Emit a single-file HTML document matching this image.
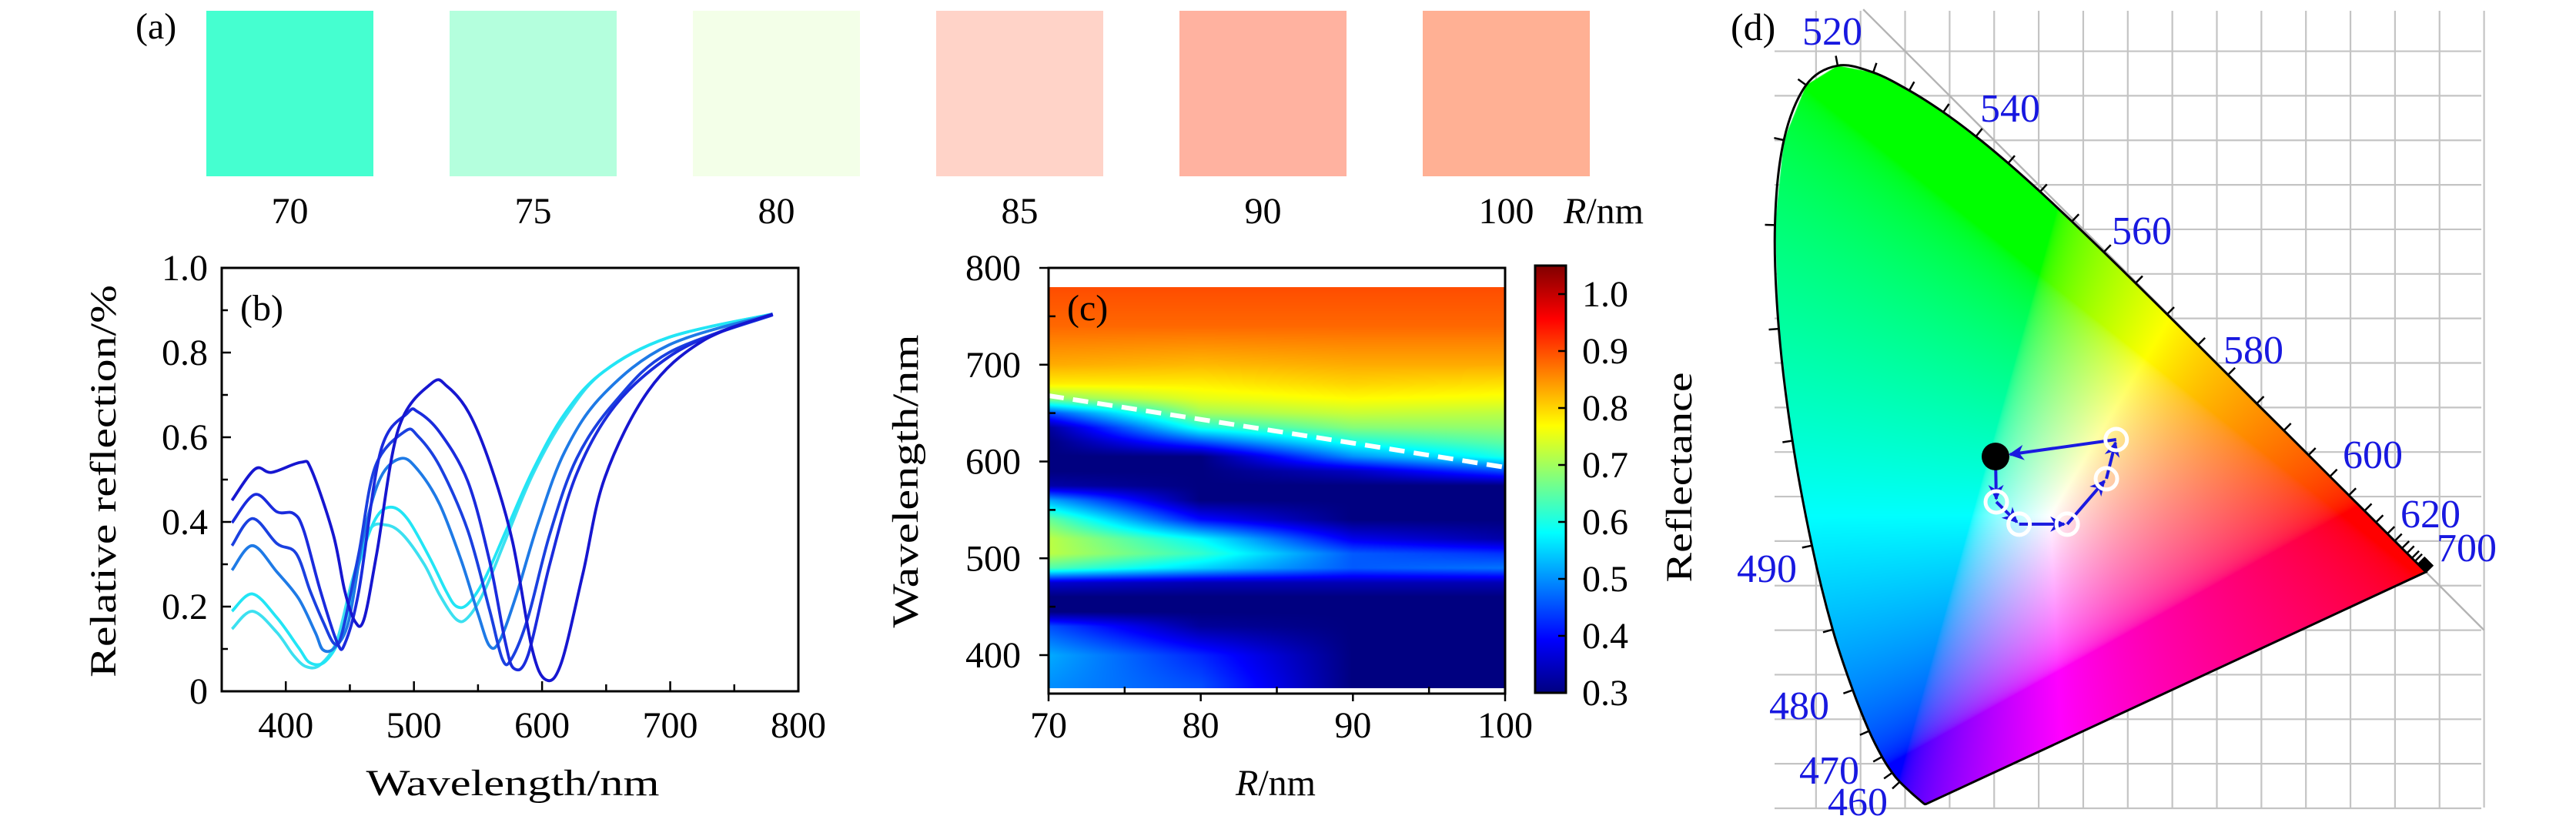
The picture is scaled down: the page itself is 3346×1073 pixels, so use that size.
<!DOCTYPE html>
<html><head><meta charset="utf-8">
<style>
html,body{margin:0;padding:0;background:#fff;}
#root{position:relative;width:3346px;height:1073px;overflow:hidden;background:#fff;}
svg,canvas{position:absolute;left:0;top:0;}
text{font-family:"Liberation Serif",serif;}
</style></head>
<body>
<div id="root">
<svg id="under" width="3346" height="1073"></svg>
<canvas id="heat"></canvas>
<canvas id="gamut"></canvas>
<svg id="over" width="3346" height="1073">
<defs>
<linearGradient id="jetg" x1="0" y1="1" x2="0" y2="0">
<stop offset="0" stop-color="#000080"/><stop offset="0.125" stop-color="#0000ff"/>
<stop offset="0.375" stop-color="#00ffff"/><stop offset="0.625" stop-color="#ffff00"/>
<stop offset="0.875" stop-color="#ff0000"/><stop offset="1" stop-color="#800000"/>
</linearGradient>
<marker id="arr" viewBox="0 0 10 10" refX="9" refY="5" markerWidth="5" markerHeight="5" orient="auto" markerUnits="strokeWidth">
<path d="M0,0 L10,5 L0,10 L3,5 z" fill="#1a1ae0"/></marker>
</defs>
</svg>
</div>
<script>
// ---------- panel (a) data ----------
const swatchR = ["70","75","80","85","90","100"];
const swatchColors = ["#45ffd0","#b4ffdd","#f3ffe8","#ffd3c8","#ffb2a0","#ffb094"];

// ---------- panel (b) data ----------
const bWl100=[358,376,389,412,420,437,446,454,461,471,488,514,526,543,560,577,592,603,615,632,649,683,725,780];
const bV100=[.451,.525,.517,.541,.523,.371,.237,.165,.17,.326,.621,.728,.72,.657,.532,.353,.103,.027,.067,.28,.505,.71,.827,.891];
const bWl90=[358,376,393,406,414,427,440,446,457,474,495,503,520,542,559,571,578,589,606,627,657,699,742,780];
const bV90=[.398,.465,.424,.42,.38,.237,.116,.112,.237,.567,.657,.66,.612,.496,.308,.121,.054,.085,.30,.514,.675,.79,.853,.889];
const bWl85=[358,374,393,408,419,429,438,444,457,470,493,503,520,542,559,569,576,589,606,627,657,699,780];
const bV85=[.344,.408,.349,.326,.237,.165,.112,.139,.326,.532,.614,.603,.532,.38,.192,.076,.076,.174,.371,.55,.684,.80,.889];
const bWl80=[358,374,393,410,423,429,438,449,461,474,490,503,520,537,550,559,567,580,597,618,648,699,780];
const bV80=[.286,.344,.282,.219,.139,.098,.103,.165,.371,.505,.55,.523,.442,.308,.183,.107,.12,.228,.398,.568,.702,.818,.891];
const bWl75=[358,374,393,410,419,431,444,457,470,482,495,512,525,533,542,555,572,593,618,648,699,780];
const bV75=[.189,.23,.174,.103,.067,.071,.139,.30,.407,.435,.407,.317,.237,.201,.206,.264,.38,.523,.657,.755,.836,.891];
const bWl70=[358,374,393,406,416,427,440,452,465,478,491,508,520,533,542,555,572,593,618,648,699,780];
const bV70=[.147,.189,.139,.085,.058,.063,.121,.264,.38,.393,.371,.30,.228,.17,.174,.237,.362,.514,.648,.755,.836,.891];
const bXTicks=[400,500,600,700,800];
const bYTicks=[0,0.2,0.4,0.6,0.8,1.0];
const bYTickLabels=["0","0.2","0.4","0.6","0.8","1.0"];

// ---------- panel (c) data ----------
const cR=[70,80,90,100];
const cWl=[370,400,430,445,460,475,490,505,520,540,560,575,590,605,620,635,650,665,680,700,740,780];
const cRefl70=[.50,.52,.45,.30,.30,.36,.64,.72,.72,.66,.52,.33,.30,.30,.30,.32,.45,.68,.78,.83,.88,.90];
const cRefl80=[.45,.42,.32,.30,.30,.34,.55,.62,.58,.40,.30,.30,.30,.30,.45,.60,.70,.75,.78,.82,.88,.90];
const cRefl90=[.30,.30,.30,.30,.30,.34,.46,.46,.38,.30,.30,.30,.35,.50,.60,.68,.73,.77,.80,.83,.88,.90];
const cRefl100=[.30,.30,.30,.30,.30,.34,.48,.43,.33,.30,.30,.30,.45,.60,.65,.69,.72,.76,.79,.83,.88,.90];
const cDashR=[70,90,100];
const cDashWl=[668,619,594];
const cXTicks=[70,80,90,100];
const cYTicks=[400,500,600,700,800];
const cbTicks=[0.3,0.4,0.5,0.6,0.7,0.8,0.9,1.0];

// ---------- panel (d) data ----------
const locWl=[380,400,420,440,450,460,465,470,475,480,485,490,495,500,505,510,515,520,525,530,535,540,545,550,555,560,565,570,575,580,585,590,595,600,605,610,620,630,640,650,700];
const locX=[.1741,.1733,.1714,.1644,.1566,.1440,.1355,.1241,.1096,.0913,.0687,.0454,.0235,.0082,.0039,.0139,.0389,.0743,.1142,.1547,.1929,.2296,.2658,.3016,.3373,.3731,.4087,.4441,.4788,.5125,.5448,.5752,.6029,.6270,.6482,.6658,.6915,.7079,.7190,.7260,.7347];
const locY=[.0050,.0048,.0051,.0109,.0177,.0297,.0399,.0578,.0868,.1327,.2007,.2950,.4127,.5384,.6548,.7502,.8120,.8338,.8262,.8059,.7816,.7543,.7243,.6923,.6589,.6245,.5896,.5547,.5202,.4866,.4544,.4242,.3965,.3725,.3514,.3340,.3083,.2920,.2809,.2740,.2653];
const ptX=[0.2515,0.2524,0.278,0.332,0.376,0.387];
const ptY=[0.395,0.344,0.319,0.319,0.370,0.414];
const wlLabels=["520","540","560","580","600","620","700","490","480","470","460"];
const wlLabelPos=[[2380,58],[2611,158],[2782,317],[2927,472],[3082,608],[3157,685],[3204,729],[2295,756],[2337,934],[2376,1018],[2413,1059]];

const NS="http://www.w3.org/2000/svg";
const over=document.getElementById('over');
const under=document.getElementById('under');
function el(parent,tag,attrs,txt){const e=document.createElementNS(NS,tag);for(const k in attrs)e.setAttribute(k,attrs[k]);if(txt!==undefined)e.textContent=txt;parent.appendChild(e);return e;}
function grp(parent,name){const g=document.createElementNS(NS,'g');


parent.appendChild(g);return g;}
function smooth(pts){let d='M'+pts[0][0].toFixed(1)+','+pts[0][1].toFixed(1);
for(let i=0;i<pts.length-1;i++){const p0=pts[Math.max(0,i-1)],p1=pts[i],p2=pts[i+1],p3=pts[Math.min(pts.length-1,i+2)];
const c1=[p1[0]+(p2[0]-p0[0])/6,p1[1]+(p2[1]-p0[1])/6],c2=[p2[0]-(p3[0]-p1[0])/6,p2[1]-(p3[1]-p1[1])/6];
d+=' C'+c1[0].toFixed(1)+','+c1[1].toFixed(1)+' '+c2[0].toFixed(1)+','+c2[1].toFixed(1)+' '+p2[0].toFixed(1)+','+p2[1].toFixed(1);}
return d;}

// ===== panel a =====
const ga=grp(over,'panel-a-swatches');
let t=el(ga,'text',{x:176,y:50,'font-size':48},'(a)');

const swX0=268, swStep=316, swW=217;
swatchR.forEach((r,i)=>{
 const x=swX0+i*swStep;
 const rc=el(ga,'rect',{x:x,y:14,width:swW,height:215,fill:swatchColors[i]});
 
 
 const tx=el(ga,'text',{x:x+swW/2,y:290,'font-size':48,'text-anchor':'middle'},r);
 
 
});
t=el(ga,'text',{x:2031,y:290,'font-size':48});

el(t,'tspan',{'font-style':'italic'},'R');el(t,'tspan',{},'/nm');

// ===== panel b =====
const gb=grp(over,'panel-b-spectra');
const bL=288,bR=1037,bT=348,bB=898;
const xb=nm=>bL+(nm-350)*(bR-bL)/450;
const yb=v=>bB-v*(bB-bT);
const bSeries=[[bWl70,bV70,'#3ce0f0','70'],[bWl75,bV75,'#22e5f5','75'],[bWl80,bV80,'#1e7ae6','80'],[bWl85,bV85,'#1a40e0','85'],[bWl90,bV90,'#1a2bdd','90'],[bWl100,bV100,'#1616d0','100']];
bSeries.forEach(s=>{
 const p=el(gb,'path',{d:smooth(s[0].map((w,i)=>[xb(w),yb(s[1][i])])),fill:'none',stroke:s[2],'stroke-width':3.8,'stroke-linejoin':'round'});
 
 
});
let ax=el(gb,'rect',{x:bL,y:bT,width:bR-bL,height:bB-bT,fill:'none',stroke:'#000','stroke-width':3});

for(let v=0;v<=1.0001;v+=0.1){const major=Math.round(v*10)%2===0;el(gb,'line',{x1:bL,x2:bL+(major?12:8),y1:yb(v),y2:yb(v),stroke:'#000','stroke-width':2.5});}
for(let w=400;w<=800;w+=50){const major=w%100===0;el(gb,'line',{x1:xb(w),x2:xb(w),y1:bB,y2:bB-(major?13:9),stroke:'#000','stroke-width':2.5});}
bYTicks.forEach((v,i)=>{const e=el(gb,'text',{x:270,y:yb(v)+16,'font-size':48,'text-anchor':'end'},bYTickLabels[i]);
 });
bXTicks.forEach(w=>{const e=el(gb,'text',{x:xb(w),y:958,'font-size':48,'text-anchor':'middle'},String(w));
 });
t=el(gb,'text',{x:0,y:0,'font-size':48,'text-anchor':'middle',transform:'translate(150,625) rotate(-90)',textLength:510,lengthAdjust:'spacingAndGlyphs'},'Relative reflection/%');

t=el(gb,'text',{x:666,y:1033,'font-size':48,'text-anchor':'middle',textLength:381,lengthAdjust:'spacingAndGlyphs'},'Wavelength/nm');

t=el(gb,'text',{x:312,y:416,'font-size':48},'(b)');


// ===== panel c =====
const cL=1362,cRt=1955,cT=348,cB=901;
const xc=r=>cL+(r-70)*(cRt-cL)/30;
const yc=w=>851-(w-400)*(851-348)/400;
const vmin=0.3,vmax=1.05;
function jet(v){const tt=Math.max(0,Math.min(1,(v-vmin)/(vmax-vmin)));const c=x=>Math.max(0,Math.min(1,x));
 return [c(1.5-Math.abs(4*tt-3)),c(1.5-Math.abs(4*tt-2)),c(1.5-Math.abs(4*tt-1))];}
function interp(xs,ys,x){if(x<=xs[0])return ys[0];for(let i=0;i<xs.length-1;i++){if(x<=xs[i+1]){const f=(x-xs[i])/(xs[i+1]-xs[i]);return ys[i]+f*(ys[i+1]-ys[i]);}}return ys[ys.length-1];}
(function(){
 const rows=[cRefl70,cRefl80,cRefl90,cRefl100];
 const wTop=780,wBot=366;
 const x0=Math.round(xc(70)),x1=Math.round(xc(100)),y0=Math.round(yc(wTop)),y1=Math.round(yc(wBot));
 const cv=document.getElementById('heat');cv.width=x1-x0;cv.height=y1-y0;cv.style.left=x0+'px';cv.style.top=y0+'px';
 const ctx=cv.getContext('2d');const img=ctx.createImageData(cv.width,cv.height);
 for(let py=0;py<cv.height;py++){const w=wTop-(py+0.5)*(wTop-wBot)/cv.height;
  const col=rows.map(r=>interp(cWl,r,w));
  for(let px=0;px<cv.width;px++){const R=70+(px+0.5)*30/cv.width;const v=interp(cR,col,R);const c=jet(v);const k=(py*cv.width+px)*4;
   img.data[k]=c[0]*255;img.data[k+1]=c[1]*255;img.data[k+2]=c[2]*255;img.data[k+3]=255;}}
 ctx.putImageData(img,0,0);
})();
const gc=grp(over,'panel-c-heatmap');
const dl=el(gc,'polyline',{points:cDashR.map((r,i)=>xc(r)+','+yc(cDashWl[i])).join(' '),fill:'none',stroke:'#fff','stroke-width':6,'stroke-dasharray':'20,12'});

ax=el(gc,'rect',{x:cL,y:cT,width:cRt-cL,height:cB-cT,fill:'none',stroke:'#000','stroke-width':3});

for(let w=400;w<=800;w+=50){const major=w%100===0;el(gc,'line',{x1:cL-(major?12:0),x2:cL+(major?0:9),y1:yc(w),y2:yc(w),stroke:'#000','stroke-width':2.5});}
for(let r=70;r<=100;r+=5){const major=r%10===0;el(gc,'line',{x1:xc(r),x2:xc(r),y1:cB+(major?10:0),y2:cB-(major?0:9),stroke:'#000','stroke-width':2.5});}
cYTicks.forEach(w=>{const e=el(gc,'text',{x:1326,y:yc(w)+16,'font-size':48,'text-anchor':'end'},String(w));
 });
cXTicks.forEach(r=>{const e=el(gc,'text',{x:xc(r),y:958,'font-size':48,'text-anchor':'middle'},String(r));
 });
t=el(gc,'text',{x:0,y:0,'font-size':48,'text-anchor':'middle',transform:'translate(1192,625) rotate(-90)',textLength:381,lengthAdjust:'spacingAndGlyphs'},'Wavelength/nm');

t=el(gc,'text',{x:1657,y:1033,'font-size':48,'text-anchor':'middle'});

el(t,'tspan',{'font-style':'italic'},'R');el(t,'tspan',{},'/nm');
t=el(gc,'text',{x:1386,y:416,'font-size':48},'(c)');

// colorbar
const cbT=345,cbB=900,cbL=1994,cbRt=2034;
const ycb=v=>cbB-(v-vmin)/(vmax-vmin)*(cbB-cbT);
const gcb=grp(over,'colorbar');
let cb=el(gcb,'rect',{x:cbL,y:cbT,width:cbRt-cbL,height:cbB-cbT,fill:'url(#jetg)',stroke:'#000','stroke-width':3});

cbTicks.forEach(v=>{el(gcb,'line',{x1:cbRt,x2:cbRt-10,y1:ycb(v),y2:ycb(v),stroke:'#000','stroke-width':2.5});
 const e=el(gcb,'text',{x:2055,y:ycb(v)+16,'font-size':48},v.toFixed(1));
 });
t=el(gcb,'text',{x:0,y:0,'font-size':48,'text-anchor':'middle',transform:'translate(2197,620) rotate(-90)',textLength:273,lengthAdjust:'spacingAndGlyphs'},'Reflectance');


// ===== panel d =====
const dX0=2301,dY0=1050,dS=1157;
const xd=x=>dX0+x*dS, yd=y=>dY0-y*dS;
const gg=grp(under,'cie-grid');
for(let i=1;i<=16;i++){const x=xd(i*0.05);el(gg,'line',{x1:x,x2:x,y1:14,y2:1049,stroke:'#c4c4c4','stroke-width':2.2});}
for(let j=0;j<=19;j++){const y=yd(j*0.05);if(y<14)continue;el(gg,'line',{x1:2305,x2:3223,y1:y,y2:y,stroke:'#c4c4c4','stroke-width':2.2});}
el(gg,'line',{x1:xd(0.103),y1:yd(0.897),x2:xd(0.8),y2:yd(0.2),stroke:'#b4b4b4','stroke-width':2.4});
(function(){
 const cv=document.getElementById('gamut');const L=2290,T=70,W=940,H=990;
 cv.width=W;cv.height=H;cv.style.left=L+'px';cv.style.top=T+'px';
 const off=document.createElement('canvas');off.width=W;off.height=H;const octx=off.getContext('2d');
 const img=octx.createImageData(W,H);
 const g=c=>c<=0.0031308?12.92*c:1.055*Math.pow(c,1/2.4)-0.055;
 for(let py=0;py<H;py++){const y=(dY0-(py+T))/dS;
  for(let px=0;px<W;px++){const x=(px+L-dX0)/dS;const k=(py*W+px)*4;
   if(y<=0.001){img.data[k+3]=0;continue;}
   const X=x/y,Y=1,Z=(1-x-y)/y;
   let r=3.2406*X-1.5372*Y-0.4986*Z,gg2=-0.9689*X+1.8758*Y+0.0415*Z,b=0.0557*X-0.2040*Y+1.0570*Z;
   r=Math.max(0,r);gg2=Math.max(0,gg2);b=Math.max(0,b);const m=Math.max(r,gg2,b)||1;
   img.data[k]=g(r/m)*255;img.data[k+1]=g(gg2/m)*255;img.data[k+2]=g(b/m)*255;img.data[k+3]=255;}}
 octx.putImageData(img,0,0);
 const ctx=cv.getContext('2d');ctx.beginPath();
 locX.forEach((x,i)=>{const px=xd(x)-L,py=yd(locY[i])-T;if(i===0)ctx.moveTo(px,py);else ctx.lineTo(px,py);});
 ctx.closePath();ctx.save();ctx.clip();ctx.drawImage(off,0,0);ctx.restore();
})();
const gd=grp(over,'panel-d-cie');
const lp=el(gd,'path',{d:smooth(locX.map((x,i)=>[xd(x),yd(locY[i])]))+' Z',fill:'none',stroke:'#000','stroke-width':3});

for(let w=460;w<=700;w+=5){
 const x=interp(locWl,locX,w),y=interp(locWl,locY,w);
 const xa=interp(locWl,locX,w-2),ya=interp(locWl,locY,w-2),xb2=interp(locWl,locX,w+2),yb2=interp(locWl,locY,w+2);
 let tx=xd(xb2)-xd(xa),ty=yd(yb2)-yd(ya);const n=Math.hypot(tx,ty)||1;tx/=n;ty/=n;
 const nx=ty,ny=-tx;
 el(gd,'line',{x1:xd(x),y1:yd(y),x2:xd(x)+nx*13,y2:yd(y)+ny*13,stroke:'#000','stroke-width':2.5});
}
wlLabels.forEach((s,i)=>{const e=el(gd,'text',{x:wlLabelPos[i][0],y:wlLabelPos[i][1],'font-size':52,'text-anchor':'middle',fill:'#1818e0'},s);
 });
t=el(gd,'text',{x:2248,y:52,'font-size':50},'(d)');

// path arrows
const order=[0,1,2,3,4,5,0];
for(let i=0;i<order.length-1;i++){
 const a=order[i],b=order[i+1];
 const x1=xd(ptX[a]),y1=yd(ptY[a]),x2=xd(ptX[b]),y2=yd(ptY[b]);
 const dx=x2-x1,dy=y2-y1,n=Math.hypot(dx,dy);const sh=(b===0?19:4);
 const ln=el(gd,'line',{x1:x1,y1:y1,x2:x2-dx/n*sh,y2:y2-dy/n*sh,stroke:'#1a1ae0','stroke-width':4,'marker-end':'url(#arr)'});
 
 
}
ptX.forEach((x,i)=>{
 let c;
 if(i===0){c=el(gd,'circle',{cx:xd(x),cy:yd(ptY[i]),r:18,fill:'#000'});}
 else{c=el(gd,'circle',{cx:xd(x),cy:yd(ptY[i]),r:14,fill:'none',stroke:'#fff','stroke-width':5});}
 
 
});
</script>
</body></html>
